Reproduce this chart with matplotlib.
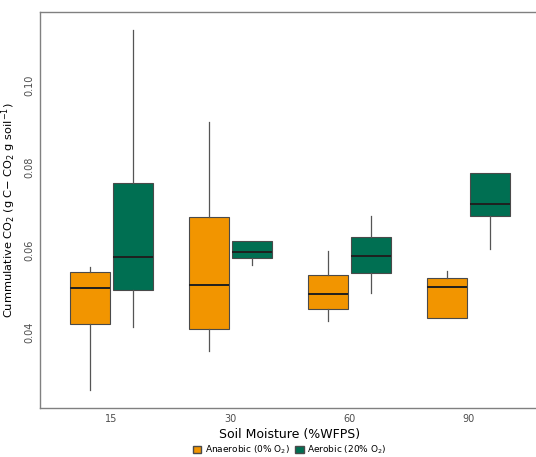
"""Boxplot of cumulative CO2 by soil moisture and oxygen treatment."""
import matplotlib
matplotlib.use("Agg")
import matplotlib.pyplot as plt
from matplotlib.patches import Patch

moisture = ["15", "30", "60", "90"]

# Anaerobic (0% O2): whisker low, q1, median, q3, whisker high
an_wlo = [0.0261, 0.0355, 0.0428, 0.0435]
an_q1 = [0.0421, 0.0408, 0.0457, 0.0435]
an_med = [0.0508, 0.0515, 0.0493, 0.0510]
an_q3 = [0.0547, 0.0680, 0.0539, 0.0532]
an_whi = [0.0559, 0.0910, 0.0598, 0.0549]

# Aerobic (20% O2)
ae_wlo = [0.0413, 0.0564, 0.0496, 0.0602]
ae_q1 = [0.0503, 0.0581, 0.0544, 0.0682]
ae_med = [0.0583, 0.0595, 0.0585, 0.0712]
ae_q3 = [0.0762, 0.0622, 0.0632, 0.0787]
ae_whi = [0.1133, 0.0622, 0.0682, 0.0787]

ORANGE = "#F29500"
GREEN = "#006F52"


def stats(wlo, q1, med, q3, whi):
    return [dict(whislo=a, q1=b, med=c, q3=d, whishi=e, fliers=[])
            for a, b, c, d, e in zip(wlo, q1, med, q3, whi)]


fig = plt.figure(figsize=(5.36, 4.57), dpi=100)
ax = fig.add_axes([40 / 536, 49 / 457, 500 / 536, 396 / 457])

pos = range(1, len(moisture) + 1)
off, width = 0.18, 0.34
for st, color, sign in [(stats(an_wlo, an_q1, an_med, an_q3, an_whi), ORANGE, -1),
                        (stats(ae_wlo, ae_q1, ae_med, ae_q3, ae_whi), GREEN, 1)]:
    ax.bxp(st, positions=[p + sign * off for p in pos], widths=width,
           patch_artist=True, showcaps=False,
           boxprops=dict(facecolor=color, edgecolor="#4a4a4a", linewidth=0.8),
           medianprops=dict(color="#1f1f1f", linewidth=1.4),
           whiskerprops=dict(color="#555555", linewidth=0.9))

ax.set_xlim(0.4, 4.6)
ax.set_ylim(0.0217, 0.1177)
ax.set_xticks(list(pos))
ax.set_xticklabels(moisture)
ax.set_yticks([0.04, 0.06, 0.08, 0.10])
ax.set_yticklabels(["0.04", "0.06", "0.08", "0.10"], rotation=90, va="center")
ax.tick_params(axis="both", length=0, labelsize=7, labelcolor="#4d4d4d", pad=4)

for s in ["left", "bottom", "top"]:
    ax.spines[s].set_color("#808080")
    ax.spines[s].set_linewidth(1.0)
ax.spines["right"].set_visible(False)

ax.set_xlabel("Soil Moisture (%WFPS)", fontsize=9, labelpad=3)
ax.set_ylabel("Cummulative CO$_2$ (g C$-$ CO$_2$ g soil$^{-1}$)", fontsize=8.2)
ax.yaxis.set_label_coords(-0.044, 0.5)

handles = [Patch(facecolor=ORANGE, edgecolor="#4a4a4a", label="Anaerobic (0% O$_2$)"),
           Patch(facecolor=GREEN, edgecolor="#4a4a4a", label="Aerobic (20% O$_2$)")]
fig.legend(handles=handles, loc="center", bbox_to_anchor=(290 / 536, 1 - 450 / 457),
           ncol=2, frameon=False, fontsize=6.5, handlelength=0.9, handleheight=0.9,
           handletextpad=0.4, columnspacing=0.6)

fig.savefig("out.png", dpi=100)
